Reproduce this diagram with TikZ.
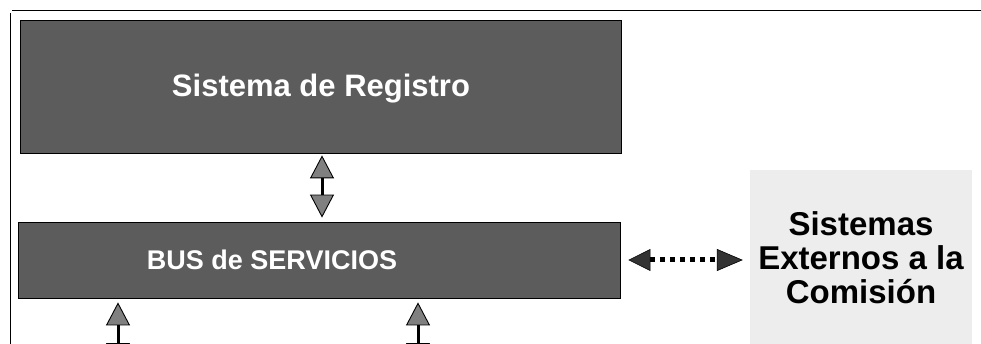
\documentclass[tikz,border=0pt]{standalone}
\usepackage{fontspec}
\setmainfont{Liberation Sans}
\usetikzlibrary{arrows.meta,positioning}
\tikzset{
    darkbox/.style={draw=black, line width=0.8pt, fill=black!64, inner sep=0pt},
    boxtext/.style={text=white, font=\bfseries\fontsize{27}{30}\selectfont},
    extbox/.style={fill=black!7, inner sep=0pt, align=center,
        font=\bfseries\fontsize{33}{34}\selectfont},
    frameline/.style={line width=0.9pt},
    bigarrow/.style={line width=3pt,
        {Triangle[width=24pt,length=23pt,line width=0.9pt,fill=black!50]}-{Triangle[width=24pt,length=23pt,line width=0.9pt,fill=black!50]}},
    dotarrow/.style={line width=5pt, dash pattern=on 5pt off 5pt,
        {Triangle[width=22pt,length=22pt,line width=0.6pt,fill=black!80]}-{Triangle[width=22pt,length=26pt,line width=0.6pt,fill=black!80]}}
}
\begin{document}
\begin{tikzpicture}[x=1pt, y=-1pt]
    \useasboundingbox (0,0) rectangle (981,344);
    \clip (0,0) rectangle (981,344);

    % frame of the scan
    \draw[frameline] (12,10) -- (981,10);
    \draw[frameline] (10,13) -- (10,344);

    % boxes
    \node[darkbox, minimum width=601pt, minimum height=133pt] (reg) at (320.5,86.5) {};
    \node[boxtext, font=\bfseries\fontsize{31}{33}\selectfont] (reglbl) at (321,89) {Sistema de Registro};
    \node[darkbox, minimum width=602pt, minimum height=76pt,
        label={[boxtext, xshift=-47pt]center:BUS de SERVICIOS}] (bus) at (319,260) {};
    \node[extbox, minimum width=222pt, minimum height=176pt] (ext) at (861,258)
        {Sistemas\\Externos a la\\Comisión};

    % loose ends below the picture
    \coordinate (mid) at (322,0);
    \coordinate (low1) at (118,366);
    \coordinate (low2) at (418,366);

    \draw[bigarrow, shorten <=2pt, shorten >=4pt] (reg.south -| mid) -- (bus.north -| mid);
    \draw[bigarrow, shorten <=4pt] (bus.south -| low1) -- (low1);
    \draw[bigarrow, shorten <=4pt] (bus.south -| low2) -- (low2);
    \draw[dotarrow, shorten <=8pt, shorten >=7pt] (bus.east) -- (ext.west |- bus.east);
\end{tikzpicture}
\end{document}
